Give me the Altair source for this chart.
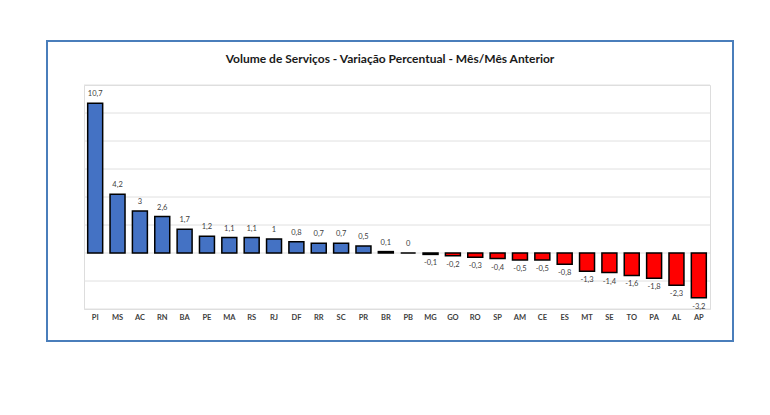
import altair as alt
import pandas as pd

states = ["PI", "MS", "AC", "RN", "BA", "PE", "MA", "RS", "RJ", "DF", "RR", "SC", "PR", "BR",
          "PB", "MG", "GO", "RO", "SP", "AM", "CE", "ES", "MT", "SE", "TO", "PA", "AL", "AP"]
values = [10.7, 4.2, 3, 2.6, 1.7, 1.2, 1.1, 1.1, 1, 0.8, 0.7, 0.7, 0.5, 0.1,
          0, -0.1, -0.2, -0.3, -0.4, -0.5, -0.5, -0.8, -1.3, -1.4, -1.6, -1.8, -2.3, -3.2]
grid_values = [-4, -2, 0, 2, 4, 6, 8, 10, 12]


def fmt(v):
    return ("%g" % v).replace(".", ",")


df = pd.DataFrame({"estado": states, "valor": values, "rotulo": [fmt(v) for v in values]})
df["sinal"] = ["pos" if v >= 0 else "neg" for v in values]

W, H = 626, 224
FONT = "Lato"

x = alt.X("estado:N", sort=states, title=None,
          scale=alt.Scale(paddingInner=0.33, paddingOuter=0.165),
          axis=alt.Axis(domain=False, ticks=False, labelAngle=0, labelFontSize=7.5,
                        labelFontWeight="bold", labelColor="#404040", labelPadding=4,
                        labelFont=FONT))
y = alt.Y("valor:Q", title=None,
          scale=alt.Scale(domain=[-4, 12], nice=False, zero=True),
          axis=None)

base = alt.Chart(df)

grid = alt.Chart(pd.DataFrame({"g": grid_values})).mark_rule(
    color="#e0e0e0", strokeWidth=1
).encode(y=alt.Y("g:Q", scale=alt.Scale(domain=[-4, 12], nice=False), axis=None))

bars = base.mark_bar(stroke="black", strokeWidth=1.5).encode(
    x=x, y=y, y2=alt.datum(0),
    color=alt.Color("sinal:N", scale=alt.Scale(domain=["pos", "neg"], range=["#4472C4", "#FF0000"]),
                    legend=None),
)

pos_lbl = base.transform_filter("datum.valor >= 0").mark_text(
    baseline="bottom", dy=-5, fontSize=7.5, color="#404040", font=FONT
).encode(x=alt.X("estado:N", sort=states), y="valor:Q", text="rotulo:N")

neg_lbl = base.transform_filter("datum.valor < 0").mark_text(
    baseline="top", dy=5, fontSize=7.5, color="#404040", font=FONT
).encode(x=alt.X("estado:N", sort=states), y="valor:Q", text="rotulo:N")

frame = alt.Chart(pd.DataFrame({"k": [0]})).mark_rect(
    fill=None, stroke="#4a7ebb", strokeWidth=2
).encode(x=alt.value(-37), x2=alt.value(649), y=alt.value(-44), y2=alt.value(256))

chart = alt.layer(grid, bars, pos_lbl, neg_lbl, frame).properties(
    width=W, height=H,
    title=alt.TitleParams("Volume de Serviços - Variação Percentual - Mês/Mês Anterior",
                          font=FONT, fontSize=12, fontWeight="bold", color="#1a1a1a",
                          anchor="middle", offset=-26, dx=-7),
    autosize=alt.AutoSizeParams(type="none"),
    padding={"left": 76, "top": 77, "right": 30, "bottom": 60},
).configure_view(stroke=None).configure(background="white")

chart.save("out.html", embed_options={"renderer": "svg", "actions": False})
